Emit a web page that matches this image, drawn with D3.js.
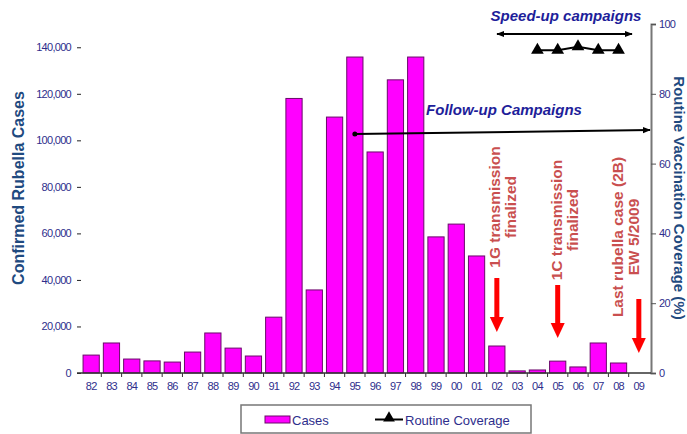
<!DOCTYPE html>
<head>
  <meta charset="utf-8">
  <style>
    body { margin: 0; background: #fff; }
    svg { display: block; font-family: "Liberation Sans", Arial, sans-serif; }
    .tick text { fill: #2e2e8c; }
  </style>
  <script src="https://cdn.jsdelivr.net/npm/d3@7"></script>
</head>
<body>
<svg id=chart width="687" height="434"></svg>

<script>
// data
const years = ['82','83','84','85','86','87','88','89','90','91','92','93','94','95',
               '96','97','98','99','00','01','02','03','04','05','06','07','08','09']
const cases = [7700, 12900, 6000, 5200, 4700, 9000, 17200, 10700, 7300, 24000, 118000, 35700,
               110000, 135800, 95000, 126000, 135800, 58500, 64000, 50300, 11600, 900, 1300,
               5100, 2600, 12900, 4300, 0]
const coverageYears = ['04','05','06','07','08']
const coverage = [92.5, 92.5, 93.5, 92.5, 92.5]
const leftTicks = [0, 20000, 40000, 60000, 80000, 100000, 120000, 140000]
const rightTicks = [0, 20, 40, 60, 80, 100]
const notes = [
  { year: '02', lines: ['1G transmission', 'finalized'], dx: -2, cy: 207, top: 278, tip: 332 },
  { year: '05', lines: ['1C transmission', 'finalized'], dx: -1, cy: 220, top: 285, tip: 338 },
  { year: '09', lines: ['Last rubella case (2B)', 'EW 5/2009'], dx: -21, cy: 237, top: 299, tip: 353 },
]

const svg = d3.select('#chart')
const x0 = 79, x1 = 651, yBase = 373, yTop = 24

const x = d3.scaleBand().domain(years).range([x0, x1]).padding(0.2)
const yL = d3.scaleLinear().domain([0, 150000]).range([yBase, yTop])
const yR = d3.scaleLinear().domain([0, 100]).range([yBase, yTop])
const cx = d => x(d) + x.bandwidth() / 2

// arrow heads
const defs = svg.append('defs')
defs.append('marker').attr('id', 'ah').attr('viewBox', '0 0 10 10')
  .attr('refX', 9).attr('refY', 5).attr('markerWidth', 4).attr('markerHeight', 4)
  .attr('orient', 'auto-start-reverse')
  .append('path').attr('d', 'M0,1L10,5L0,9Z').attr('fill', '#000')

// bars
svg.append('g').selectAll('rect')
  .data(cases.map((v, i) => ({ year: years[i], v })).filter(d => d.v > 0))
  .join('rect')
  .attr('x', d => x(d.year))
  .attr('y', d => yL(d.v))
  .attr('width', x.bandwidth())
  .attr('height', d => yBase - yL(d.v))
  .attr('fill', '#ff00ff')
  .attr('stroke', '#6a0a6a')
  .attr('stroke-width', 1)

// left axis (no domain line)
const gl = svg.append('g').attr('transform', `translate(${x0 + 2},0)`)
  .call(d3.axisLeft(yL).tickValues(leftTicks).tickSize(4).tickPadding(6)
    .tickFormat(d3.format(',')))
gl.select('.domain').remove()
gl.selectAll('.tick line').attr('stroke', '#222')
gl.selectAll('.tick text').attr('font-size', 11).attr('letter-spacing', -0.7)

// right axis
const gr = svg.append('g').attr('transform', `translate(${x1},0)`)
  .call(d3.axisRight(yR).tickValues(rightTicks).tickSize(5).tickPadding(3))
gr.select('.domain').attr('stroke', '#777').attr('stroke-width', 2)
gr.selectAll('.tick line').attr('stroke', '#555')
gr.selectAll('.tick text').attr('font-size', 11).attr('letter-spacing', -0.7)

// baseline and category labels
svg.append('line').attr('x1', x0 - 2).attr('x2', x1).attr('y1', yBase).attr('y2', yBase)
  .attr('stroke', '#333').attr('stroke-width', 1.5)
svg.append('g').selectAll('line')
  .data(years.slice(1))
  .join('line')
  .attr('x1', d => x(d) - x.step() * x.paddingInner() / 2)
  .attr('x2', d => x(d) - x.step() * x.paddingInner() / 2)
  .attr('y1', yBase).attr('y2', yBase + 4)
  .attr('stroke', '#333')
const gb = svg.append('g').attr('transform', `translate(0,${yBase})`)
  .call(d3.axisBottom(x).tickSize(0).tickPadding(9))
gb.select('.domain').remove()
gb.selectAll('.tick text').attr('font-size', 11).attr('letter-spacing', -0.8)

// routine coverage line
const covPts = coverage.map((v, i) => [cx(coverageYears[i]), yR(v)])
svg.append('path').attr('d', d3.line()(covPts))
  .attr('fill', 'none').attr('stroke', '#000').attr('stroke-width', 2)
svg.append('g').selectAll('path')
  .data(covPts)
  .join('path')
  .attr('transform', d => `translate(${d[0]},${d[1]})`)
  .attr('d', d3.symbol(d3.symbolTriangle, 70))
  .attr('fill', '#000')

// campaign arrows
svg.append('line').attr('x1', 497).attr('x2', 632).attr('y1', 34).attr('y2', 34)
  .attr('stroke', '#000').attr('stroke-width', 2)
  .attr('marker-start', 'url(#ah)').attr('marker-end', 'url(#ah)')
svg.append('text').attr('x', 566).attr('y', 21).attr('text-anchor', 'middle')
  .attr('font-size', 15).attr('font-weight', 'bold').attr('font-style', 'italic')
  .attr('fill', '#1e1e9a').text('Speed-up campaigns')

svg.append('circle').attr('cx', cx('95')).attr('cy', 134).attr('r', 2.5).attr('fill', '#000')
svg.append('line').attr('x1', cx('95')).attr('x2', 650).attr('y1', 134).attr('y2', 130)
  .attr('stroke', '#000').attr('stroke-width', 2)
  .attr('marker-end', 'url(#ah)')
svg.append('text').attr('x', 504).attr('y', 115).attr('text-anchor', 'middle')
  .attr('font-size', 15).attr('font-weight', 'bold').attr('font-style', 'italic')
  .attr('fill', '#1e1e9a').text('Follow-up Campaigns')

// red notes and arrows
notes.forEach(n => {
  const ax = cx(n.year)
  const g = svg.append('g')
  n.lines.forEach((t, i) => {
    g.append('text')
      .attr('transform', `translate(${ax + n.dx + i * 16},${n.cy}) rotate(-90)`)
      .attr('text-anchor', 'middle').attr('dy', '0.35em')
      .attr('font-size', 15.5).attr('font-weight', 'bold')
      .attr('fill', '#c94f4f').text(t)
  })
  g.append('rect').attr('x', ax - 2.5).attr('y', n.top).attr('width', 5).attr('height', n.tip - n.top - 12)
    .attr('fill', '#ff0000')
  g.append('path')
    .attr('d', `M${ax - 7},${n.tip - 15}L${ax + 7},${n.tip - 15}L${ax},${n.tip}Z`)
    .attr('fill', '#ff0000')
})

// axis titles
svg.append('text').attr('transform', 'translate(18,188) rotate(-90)')
  .attr('text-anchor', 'middle').attr('dy', '0.35em')
  .attr('font-size', 16).attr('font-weight', 'bold').attr('fill', '#1f4a7f')
  .text('Confirmed Rubella Cases')
svg.append('text').attr('transform', 'translate(679,198) rotate(90)')
  .attr('text-anchor', 'middle').attr('dy', '0.35em')
  .attr('font-size', 15).attr('font-weight', 'bold').attr('fill', '#1f4a7f')
  .text('Routine Vaccination Coverage (%)')

// legend
const lg = svg.append('g')
lg.append('rect').attr('x', 241).attr('y', 405).attr('width', 290).attr('height', 28)
  .attr('fill', 'none').attr('stroke', '#777').attr('stroke-width', 1.5)
lg.append('rect').attr('x', 265).attr('y', 416).attr('width', 25).attr('height', 7)
  .attr('fill', '#ff00ff').attr('stroke', '#6a0a6a')
lg.append('text').attr('x', 292).attr('y', 424.5).attr('font-size', 13).attr('fill', '#2e2e8c').text('Cases')
lg.append('line').attr('x1', 375).attr('x2', 403).attr('y1', 419.5).attr('y2', 419.5)
  .attr('stroke', '#000').attr('stroke-width', 2)
lg.append('path').attr('transform', 'translate(389,418)').attr('d', d3.symbol(d3.symbolTriangle, 60))
  .attr('fill', '#000')
lg.append('text').attr('x', 405).attr('y', 424.5).attr('font-size', 13).attr('fill', '#2e2e8c').text('Routine Coverage')
</script>
</body>
